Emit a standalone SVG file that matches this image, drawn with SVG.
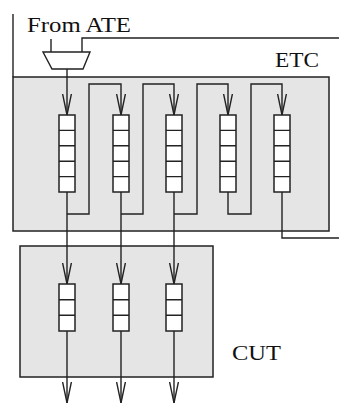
<svg xmlns="http://www.w3.org/2000/svg" width="339" height="403" viewBox="0 0 339 403">
<defs>
<style>
.box{fill:#e5e5e5;stroke:#222;stroke-width:1.5}
.buf{fill:#fff;stroke:#222;stroke-width:1.5}
.w{fill:none;stroke:#222;stroke-width:1.4}
.lbl{font-family:"Liberation Serif","Times New Roman",serif;font-size:22px;fill:#111}
</style>
<marker id="ah" viewBox="0 0 22 10" refX="21.5" refY="5" markerWidth="22" markerHeight="10" markerUnits="userSpaceOnUse" orient="auto">
<path d="M0,0.5 L21.5,5 L0,9.5" fill="none" stroke="#222" stroke-width="1.4"/>
</marker>
</defs>
<rect width="339" height="403" fill="#fff"/>
<g id="etc">
<rect class="box" x="13" y="77" width="316" height="154"/>
<text class="lbl" x="275" y="67" textLength="44" lengthAdjust="spacingAndGlyphs">ETC</text>
</g>
<g id="cut">
<rect class="box" x="20" y="246" width="193" height="131"/>
<text class="lbl" x="232" y="359.5" textLength="49" lengthAdjust="spacingAndGlyphs">CUT</text>
</g>
<g id="from-ate">
<text class="lbl" x="27" y="31.5" textLength="104" lengthAdjust="spacingAndGlyphs">From ATE</text>
</g>
<g id="mux">
<polygon class="w" points="43,52 90,52 83,69 52,69"/>
</g>
<g id="connectors">
<path class="w" d="M13,14 V77"/>
<path class="w" d="M51,39 V52"/>
<path class="w" d="M82,52 V38 H339"/>
<path class="w" d="M67,69 V115" marker-end="url(#ah)"/>
<path class="w" d="M67,192 V284" marker-end="url(#ah)"/>
<path class="w" d="M121,192 V284" marker-end="url(#ah)"/>
<path class="w" d="M174,192 V284" marker-end="url(#ah)"/>
<path class="w" d="M67,214 H89 V84 H121 V115" marker-end="url(#ah)"/>
<path class="w" d="M121,214 H143 V84 H174 V115" marker-end="url(#ah)"/>
<path class="w" d="M174,214 H197 V84 H228 V115" marker-end="url(#ah)"/>
<path class="w" d="M228,192 V214 H251 V84 H282 V115" marker-end="url(#ah)"/>
<path class="w" d="M282,192 V238 H339"/>
<path class="w" d="M67,331 V403" marker-end="url(#ah)"/>
<path class="w" d="M121,331 V403" marker-end="url(#ah)"/>
<path class="w" d="M174,331 V403" marker-end="url(#ah)"/>
</g>
<g id="buf1"><rect class="buf" x="59" y="115" width="16" height="77"/><path class="w" d="M59,130.4H75M59,145.8H75M59,161.2H75M59,176.6H75"/></g>
<g id="buf2"><rect class="buf" x="113" y="115" width="16" height="77"/><path class="w" d="M113,130.4H129M113,145.8H129M113,161.2H129M113,176.6H129"/></g>
<g id="buf3"><rect class="buf" x="166" y="115" width="16" height="77"/><path class="w" d="M166,130.4H182M166,145.8H182M166,161.2H182M166,176.6H182"/></g>
<g id="buf4"><rect class="buf" x="220" y="115" width="16" height="77"/><path class="w" d="M220,130.4H236M220,145.8H236M220,161.2H236M220,176.6H236"/></g>
<g id="buf5"><rect class="buf" x="274" y="115" width="16" height="77"/><path class="w" d="M274,130.4H290M274,145.8H290M274,161.2H290M274,176.6H290"/></g>
<g id="cbuf1"><rect class="buf" x="59" y="284" width="16" height="47"/><path class="w" d="M59,299.7H75M59,315.3H75"/></g>
<g id="cbuf2"><rect class="buf" x="113" y="284" width="16" height="47"/><path class="w" d="M113,299.7H129M113,315.3H129"/></g>
<g id="cbuf3"><rect class="buf" x="166" y="284" width="16" height="47"/><path class="w" d="M166,299.7H182M166,315.3H182"/></g>
</svg>
